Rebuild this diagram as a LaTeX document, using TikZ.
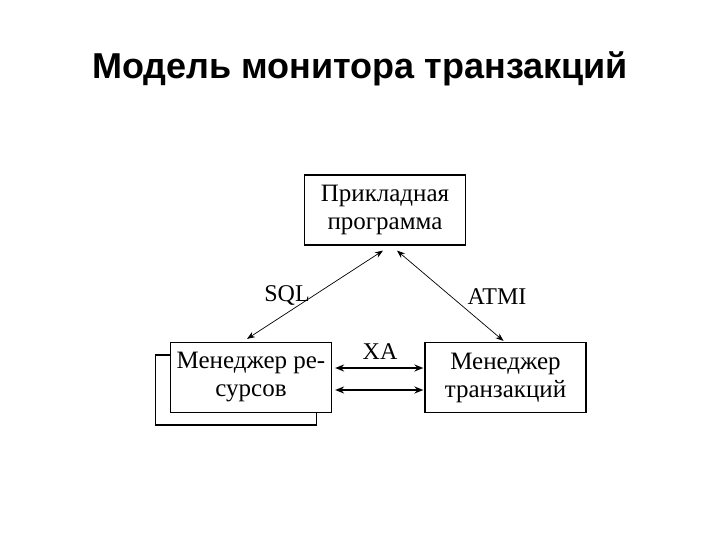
\documentclass[tikz,border=0pt]{standalone}
\usepackage{fontspec}
\setmainfont{Liberation Serif}
\newfontfamily\titlefont{Liberation Sans}
\usetikzlibrary{calc,arrows.meta}
\tikzset{
  box/.style={draw, line width=1.2pt, fill=white, minimum width=161pt, minimum height=70pt, inner sep=0pt, align=center, font=\fontsize{25}{28}\selectfont},
  lbl/.style={font=\fontsize{24}{26}\selectfont, inner sep=0pt},
  link/.style={line width=0.7pt, {Stealth[length=8pt,width=6pt]}-{Stealth[length=8pt,width=6pt]}},
  xa/.style={line width=1.6pt, {Stealth[length=9pt,width=7pt]}-{Stealth[length=9pt,width=7pt]}}
}
\begin{document}
\begin{tikzpicture}[x=1pt,y=-1pt]
\useasboundingbox (0,0) rectangle (720,540);
\node[font=\titlefont\bfseries\fontsize{36}{40}\selectfont, anchor=base] (title) at (360,79) {Модель монитора транзакций};
\node[box] (app) at (385,210) {Прикладная\\программа};
\node[box] (shadow) at (236,390) {};
\node[box] (rm) at (251,377.5) {Менеджер ре-\\сурсов};
\node[box] (tm) at (505.5,377.5) {Менеджер\\транзакций};
\draw[link] ([xshift=-4pt,yshift=3pt]rm.north) -- ([xshift=-2pt,yshift=-5pt]app.south);
\draw[link] ([xshift=12pt,yshift=-5pt]app.south) -- ([xshift=-2pt,yshift=1pt]tm.north);
\draw[xa] ($(rm.east)+(3,-9.5)$) -- ($(tm.west)+(-1,-9.5)$);
\draw[xa] ($(rm.east)+(3,12.5)$) -- ($(tm.west)+(-1,12.5)$);
\node[lbl] (sql) at (287,295) {SQL};
\node[lbl] (atmi) at (497,297) {ATMI};
\node[lbl] (xa) at (380,352) {XA};
\end{tikzpicture}
\end{document}
